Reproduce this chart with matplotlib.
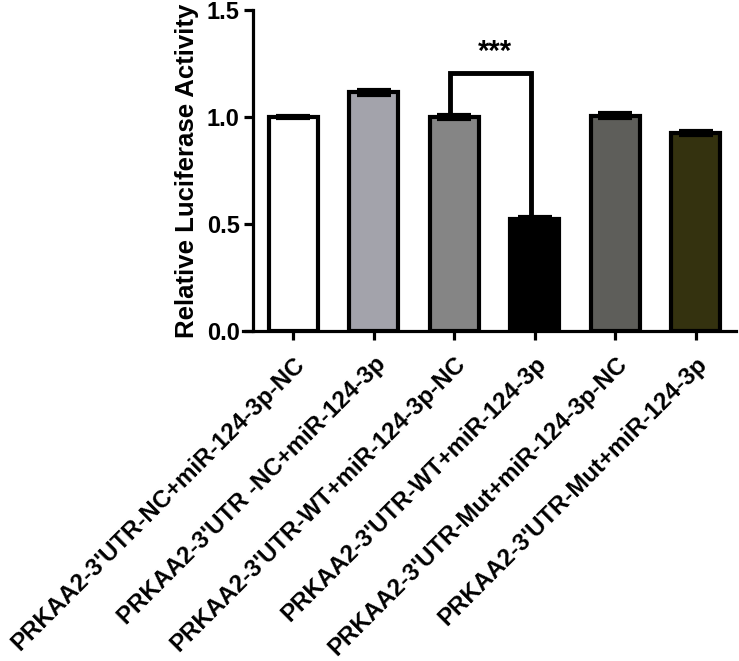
import matplotlib.pyplot as plt
import numpy as np

groups = ["PRKAA2-3'UTR-NC+miR-124-3p-NC",
          "PRKAA2-3'UTR -NC+miR-124-3p",
          "PRKAA2-3'UTR-WT+miR-124-3p-NC",
          "PRKAA2-3'UTR-WT+miR-124-3p",
          "PRKAA2-3'UTR-Mut+miR-124-3p-NC",
          "PRKAA2-3'UTR-Mut+miR-124-3p"]
values = [1.0, 1.115, 1.0, 0.525, 1.005, 0.925]
errors = [0.006, 0.01, 0.008, 0.01, 0.012, 0.01]
bar_colors = ["#ffffff", "#a3a3ab", "#858585", "#000000", "#5e5e5a", "#34320f"]

plt.rcParams['font.family'] = ['Liberation Sans', 'DejaVu Sans']
plt.rcParams['font.weight'] = 'bold'

fig = plt.figure(figsize=(7.39, 6.61), dpi=100)
ax = fig.add_axes([253 / 739, 1 - 331 / 661, 483 / 739, 321 / 661])

x = np.arange(len(groups))
ax.bar(x, values, width=0.61, color=bar_colors, edgecolor='black', linewidth=3, zorder=2)
ax.errorbar(x, values, yerr=errors, fmt='none', ecolor='black', elinewidth=3,
            capsize=12, capthick=3, zorder=3)

# significance bracket between bar 3 and bar 4
ytop = 1.205
ax.plot([2 - 0.05, 2 - 0.05, 3 - 0.05, 3 - 0.05],
        [values[2], ytop, ytop, values[3]], color='black', lw=3.5, zorder=1,
        solid_joinstyle='miter')
ax.text(2.5, 1.24, "***", ha='center', va='bottom', fontsize=21, fontweight='bold')

ax.set_xlim(-0.5, 5.5)
ax.set_ylim(0, 1.5)
ax.set_yticks([0.0, 0.5, 1.0, 1.5])
ax.set_yticklabels(["0.0", "0.5", "1.0", "1.5"])
ax.set_xticks(x)
ax.set_xticklabels(groups, rotation=45, ha='right', va='top', rotation_mode='anchor')
ax.set_ylabel("Relative Luciferase Activity", fontsize=18.5, fontweight='bold', labelpad=6)

for s in ['top', 'right']:
    ax.spines[s].set_visible(False)
for s in ['left', 'bottom']:
    ax.spines[s].set_linewidth(2.3)
ax.spines['bottom'].set_bounds(-0.625, 5.5)
ax.tick_params(axis='both', width=2.3, length=6.5)
ax.tick_params(axis='y', labelsize=17, pad=3)
ax.tick_params(axis='x', pad=9, labelsize=17.3)

fig.savefig("out.png", dpi=100)
